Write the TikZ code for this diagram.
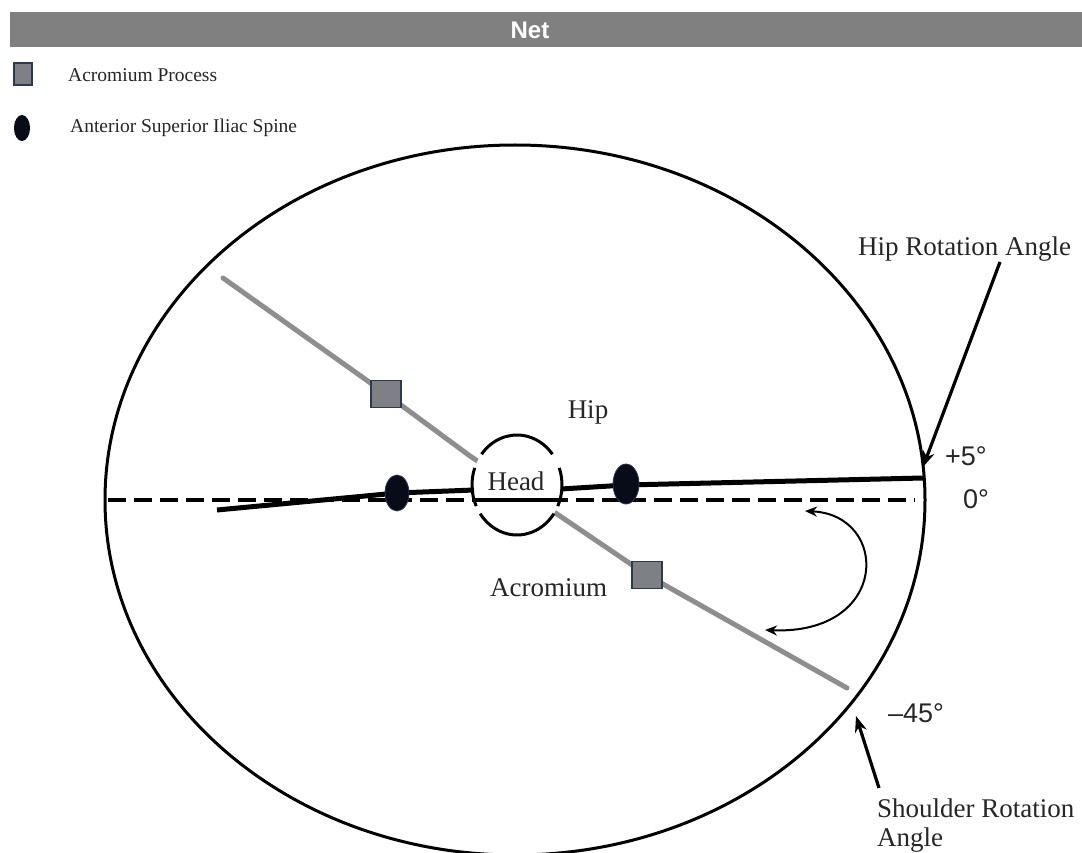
\documentclass[tikz,border=0pt]{standalone}
\usepackage{fontspec}
\setmainfont{Liberation Serif}
\setsansfont{Liberation Sans}
\usetikzlibrary{arrows.meta,shapes.geometric}
\definecolor{barGray}{HTML}{808080}
\definecolor{lineGray}{HTML}{8E8E8E}
\definecolor{sqFill}{HTML}{7E8086}
\definecolor{sqEdge}{HTML}{2B3A4C}
\definecolor{asisFill}{HTML}{070C18}
\newcommand{\lbltxt}{\fontsize{27}{30}\selectfont}
\newcommand{\lgdtxt}{\fontsize{19.5}{22}\selectfont}
\newcommand{\degtxt}{\sffamily\fontsize{27}{30}\selectfont}
\tikzset{
  acro/.style={draw=sqEdge, line width=1.6pt, fill=sqFill, minimum width=30pt, minimum height=27pt, inner sep=0pt},
  asis/.style={draw=sqEdge, line width=0.8pt, fill=asisFill, ellipse, inner sep=0pt},
  txt/.style={inner sep=0pt, text=black!85},
  shoulderline/.style={draw=lineGray, line width=5pt, line cap=round},
  hipline/.style={draw=black, line width=5pt},
  zeroline/.style={draw=black, line width=4.5pt, dash pattern=on 18pt off 8pt},
  pointer/.style={draw=black, line width=3.2pt, -{Stealth[length=16pt,width=12pt]}},
  rotarrow/.style={draw=black, line width=2pt, {Stealth[length=12pt,width=10pt]}-{Stealth[length=12pt,width=10pt]}}
}
\begin{document}
\begin{tikzpicture}[x=1pt,y=-1pt]
\useasboundingbox (0,0) rectangle (1082,853);
\fill[white] (0,0) rectangle (1082,853);
% title bar
\fill[barGray] (10,12) rectangle (1082,47);
\node[text=white, font=\sffamily\bfseries\fontsize{24}{26}\selectfont] (title) at (530,30) {Net};
% legend
\node[acro, minimum width=18pt, minimum height=22pt] (legsq) at (23,74) {};
\node[txt, anchor=west, font=\lgdtxt] (legsqtxt) at (68,75) {Acromium Process};
\fill[asisFill] (22,128) ellipse [x radius=8, y radius=13];
\coordinate (legell) at (22,128);
\node[txt, anchor=west, font=\lgdtxt] (legelltxt) at (70,128) {Anterior Superior Iliac Spine};
% big ellipse
\begin{scope}
\clip (0,0) rectangle (1082,853);
\draw[line width=3pt] (515,500) ellipse [x radius=410, y radius=355];
\end{scope}
% shoulder (acromium) line
\coordinate (s0) at (223,278);
\coordinate (s1) at (386,394);
\coordinate (s2) at (470,456);
\coordinate (s3) at (557,514);
\coordinate (s4) at (647,575);
\coordinate (s5) at (847,688);
\draw[shoulderline] (s0) -- (s1) -- (s2) -- (s3) -- (s4) -- (s5);
% head background
\fill[white] (517,485) ellipse [x radius=45, y radius=50];
% zero line
\coordinate (z0) at (108,500);
\coordinate (z1) at (915,500);
\draw[zeroline] (z0) -- (z1);
\draw[black, line width=4.5pt] (473,500) -- (562,500);
% hip line
\coordinate (h0) at (217,510);
\coordinate (h1) at (397,493);
\coordinate (h2) at (474,490);
\coordinate (h3) at (561,489);
\coordinate (h4) at (626,485);
\coordinate (h5) at (923,478);
\draw[hipline] (h0) -- (h1) -- (h2);
\draw[hipline] (h3) -- (h4) -- (h5);
% head circle (broken)
\begin{scope}[line width=3pt]
\draw (517,485) ++(35:45 and 50) arc[start angle=35, end angle=145, x radius=45, y radius=50];
\draw (517,485) ++(155:45 and 50) arc[start angle=155, end angle=200, x radius=45, y radius=50];
\draw (517,485) ++(218:45 and 50) arc[start angle=218, end angle=322, x radius=45, y radius=50];
\draw (517,485) ++(-20:45 and 50) arc[start angle=-20, end angle=25, x radius=45, y radius=50];
\end{scope}
\node[txt, anchor=base, font=\lbltxt] (head) at (516,490) {Head};
% markers
\node[acro] (acro1) at (386,394) {};
\node[acro] (acro2) at (647,575) {};
\node[asis, minimum width=24pt, minimum height=36pt] (asis1) at (397,493) {};
\node[asis, minimum width=26pt, minimum height=40pt] (asis2) at (626,484) {};
% labels
\node[txt, anchor=base, font=\lbltxt] (hip) at (588,418) {Hip};
\node[txt, anchor=base west, font=\lbltxt] (acrolbl) at (490,596) {Acromium};
\node[txt, anchor=base west, font=\degtxt] (p5) at (945,465) {+5°};
\node[txt, anchor=base west, font=\degtxt] (zero) at (963,508) {0°};
\node[txt, anchor=base west, font=\degtxt] (m45) at (888,722) {–45°};
\node[txt, anchor=base west, font=\lbltxt] (hiprot) at (858,255) {Hip Rotation Angle};
\node[txt, anchor=base west, font=\lbltxt] (shrot) at (877,817) {Shoulder Rotation};
\node[txt, anchor=base west, font=\lbltxt] (shrot2) at (877,846) {Angle};
% pointers
\coordinate (hipptrA) at (1000,262);
\coordinate (hipptrB) at (923,467);
\draw[pointer] (hipptrA) -- (hipptrB);
\coordinate (shptrA) at (879,788);
\coordinate (shptrB) at (856,716);
\draw[pointer] (shptrA) -- (shptrB);
% rotation arrow
\coordinate (rotA) at (805,511);
\coordinate (rotB) at (765,630);
\draw[rotarrow] (rotA) .. controls (890,515) and (890,635) .. (rotB);
\end{tikzpicture}
\end{document}
